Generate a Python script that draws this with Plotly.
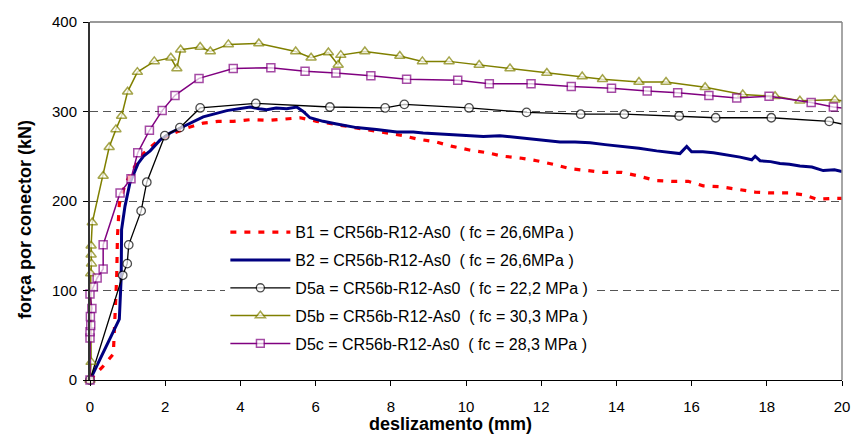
import plotly.graph_objects as go

# Push-out tests: slip (mm) vs. load per connector (kN)

b1_slip = [0, 0.34, 0.62, 0.66, 0.71, 0.73, 0.78, 0.93, 1.15, 1.42, 1.77, 2.13, 2.6, 3.01,
           3.41, 3.81, 4.3, 4.74, 5.19, 5.59, 6.03, 6.6, 7.4, 7.85, 8.33, 8.73, 9.2, 9.64,
           10.09, 10.55, 10.99, 11.44, 11.88, 12.32, 12.77, 13.25, 13.65, 14.14, 14.58,
           15.03, 15.47, 15.91, 16.31, 16.76, 17.24, 17.69, 18.09, 18.57, 18.97, 19.33,
           19.81, 20.0]
b1_force = [0, 15, 29, 67, 115, 160, 197, 218, 236, 253, 266, 274, 282, 287,
            289, 289, 291, 290, 292, 293, 289, 285, 279, 276, 273, 269, 266, 261,
            257, 254, 250, 248, 245, 241, 236, 234, 232, 232, 228,
            223, 222, 222, 217, 216, 213, 210, 209, 209, 207, 202,
            203, 203]

b2_slip = [0, 0.78, 0.83, 0.84, 0.93, 1.06, 1.28, 1.42, 1.6, 1.86, 2.13, 2.57, 3.01, 3.64,
           4.26, 4.5, 4.7, 4.95, 5.23, 5.5, 5.67, 5.85, 6.2, 6.56, 7.09, 7.35, 7.62, 8.16,
           8.6, 8.86, 9.2, 9.57, 10.0, 10.46, 10.9, 11.35, 11.88, 12.23, 12.5, 12.9, 13.3,
           13.7, 14.18, 14.6, 15.07, 15.69, 15.87, 16.0, 16.3, 16.58, 17.29, 17.6, 17.69,
           17.82, 18.1, 18.35, 18.6, 18.88, 19.2, 19.5, 19.8, 20.0]
b2_force = [0, 68, 115, 168, 194, 220, 242, 250, 256, 268, 276, 285, 294, 301,
            305, 303, 302, 304, 303, 305, 300, 293, 289, 286, 282, 281, 280, 277,
            277, 276, 275, 274, 273, 272, 273, 271, 268, 267, 266, 266, 265,
            263, 261, 259, 256, 253, 261, 255, 255, 254, 249, 246, 250,
            245, 244, 242, 241, 239, 238, 234, 235, 233]

d5a_slip = [0, 0.87, 0.99, 1.03, 1.36, 1.51, 1.99, 2.39, 2.93, 4.41, 6.38, 7.85, 8.36,
            10.08, 11.61, 13.05, 14.21, 15.67, 16.64, 18.12, 19.66, 20.0]
d5a_force = [0, 117, 130, 151, 189, 221, 273, 282, 304, 309, 305, 304, 308,
             304, 299, 297, 297, 295, 293, 293, 289, 286]

d5b_slip = [0, 0.03, 0.02, 0.04, 0.03, 0.03, 0.06, 0.35, 0.51, 0.69, 0.84, 1.0, 1.26,
            1.71, 2.15, 2.31, 2.41, 2.93, 3.2, 3.68, 4.49, 5.47, 5.88, 6.34, 6.6, 6.67,
            7.31, 8.24, 8.84, 9.55, 10.35, 11.17, 12.15, 13.09, 13.63, 14.6, 15.32,
            16.36, 17.36, 18.22, 18.88, 19.81, 20.0]
d5b_force = [0, 20, 119, 130, 140, 150, 176, 228, 260, 280, 295, 322, 344,
             356, 360, 348, 369, 372, 367, 375, 376, 367, 360, 366, 352, 363,
             367, 362, 356, 356, 352, 348, 343, 339, 336, 333, 333,
             327, 319, 317, 312, 313, 312]

d5c_slip = [0, 0, 0, 0.02, 0.01, 0.05, 0, 0.09, 0.19, 0.35, 0.35, 0.8, 1.09, 1.27, 1.58,
            1.92, 2.26, 2.9, 3.81, 4.81, 5.72, 6.54, 7.47, 8.42, 9.78, 10.62, 11.73,
            12.8, 13.87, 14.82, 15.63, 16.46, 17.2, 18.06, 19.18, 19.77, 20.0]
d5c_force = [0, 47, 54, 61, 71, 80, 96, 104, 114, 124, 151, 209, 225, 254, 279,
             301, 318, 337, 348, 349, 345, 343, 340, 336, 335, 331, 331,
             328, 326, 323, 321, 318, 315, 317, 310, 305, 304]

labels = [
    "B1 = CR56b-R12-As0  ( fc = 26,6MPa )",
    "B2 = CR56b-R12-As0  ( fc = 26,6MPa )",
    "D5a = CR56b-R12-As0  ( fc = 22,2 MPa )",
    "D5b = CR56b-R12-As0  ( fc = 30,3 MPa )",
    "D5c = CR56b-R12-As0  ( fc = 28,3 MPa )",
]

FONT = "Liberation Sans, Arial, sans-serif"


def marker_sizes(n, size=8):
    # the last point only closes the line at the right edge of the axis
    return [size] * (n - 1) + [0]


fig = go.Figure()

fig.add_trace(go.Scatter(
    x=b1_slip, y=b1_force, mode="lines", name=labels[0], legendgroup="b1",
    line=dict(color="#FF0000", width=3.2, dash="6px,8px"),
))
fig.add_trace(go.Scatter(
    x=b2_slip, y=b2_force, mode="lines", name=labels[1], legendgroup="b2",
    line=dict(color="#000080", width=3),
))
fig.add_trace(go.Scatter(
    x=d5a_slip, y=d5a_force, mode="lines+markers", name=labels[2], legendgroup="d5a",
    cliponaxis=False,
    line=dict(color="#000000", width=1.3),
    marker=dict(symbol="circle", size=marker_sizes(len(d5a_slip), 8.5), color="white",
                line=dict(color="#000000", width=1.3)),
))
fig.add_trace(go.Scatter(
    x=d5b_slip, y=d5b_force, mode="lines+markers", name=labels[3], legendgroup="d5b",
    cliponaxis=False,
    line=dict(color="#808000", width=1.5),
    marker=dict(symbol="triangle-up", size=marker_sizes(len(d5b_slip), 9), color="white",
                line=dict(color="#808000", width=1.5)),
))
fig.add_trace(go.Scatter(
    x=d5c_slip, y=d5c_force, mode="lines+markers", name=labels[4], legendgroup="d5c",
    cliponaxis=False,
    line=dict(color="#800080", width=1.5),
    marker=dict(symbol="square", size=marker_sizes(len(d5c_slip)), color="white",
                line=dict(color="#800080", width=1.5)),
))

fig.update_layout(
    width=854, height=443,
    margin=dict(l=90, r=12, t=22, b=63, autoexpand=False),
    paper_bgcolor="white", plot_bgcolor="white",
    font=dict(family=FONT, size=15, color="#000000"),
    showlegend=True,
    legend=dict(
        x=0.18, y=0.46, xanchor="left", yanchor="top",
        bgcolor="white", font=dict(family=FONT, size=16, color="#000000"),
        tracegroupgap=4, itemwidth=60,
    ),
    xaxis=dict(
        range=[0, 20], tick0=0, dtick=2, ticks="outside", ticklen=5,
        tickcolor="#000000", showline=True, linecolor="#000000", linewidth=1,
        showgrid=False, zeroline=False, automargin=False, ticklabelstandoff=8,
        tickfont=dict(family=FONT, size=15),
    ),
    yaxis=dict(
        range=[0, 400], tick0=0, dtick=100, ticks="outside", ticklen=5,
        tickcolor="#000000", showline=True, linecolor="#333333", linewidth=2,
        showgrid=True, gridcolor="#555555", gridwidth=1, griddash="8px,5px",
        zeroline=False, automargin=False, ticklabelstandoff=3,
        tickfont=dict(family=FONT, size=15),
    ),
    shapes=[
        dict(type="line", xref="paper", yref="paper", x0=0, x1=1, y0=1, y1=1,
             line=dict(color="#999999", width=2), layer="above"),
        dict(type="line", xref="paper", yref="paper", x0=1, x1=1, y0=0, y1=1,
             line=dict(color="#888888", width=1.5), layer="above"),
    ],
    annotations=[
        dict(text="<b>deslizamento (mm)</b>", xref="paper", yref="paper",
             x=0.479, y=-0.123, xanchor="center", yanchor="middle", showarrow=False,
             font=dict(family=FONT, size=18, color="#000000")),
        dict(text="<b>força por conector (kN)</b>", xref="paper", yref="paper",
             x=-0.0864, y=0.447, xanchor="center", yanchor="middle", showarrow=False,
             textangle=-90, font=dict(family=FONT, size=18, color="#000000")),
    ],
)

fig.write_html("out.html")
